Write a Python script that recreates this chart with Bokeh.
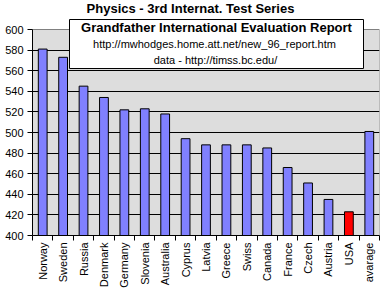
import math
from bokeh.plotting import figure
from bokeh.models import FixedTicker, Label, BoxAnnotation, Range1d
from bokeh.embed import file_html
from bokeh.resources import INLINE

countries = ["Norway", "Sweden", "Russia", "Denmark", "Germany", "Slovenia",
             "Australia", "Cyprus", "Latvia", "Greece", "Swiss", "Canada",
             "France", "Czech", "Austria", "USA", "avarage"]
scores = [581, 573, 545, 534, 522, 523, 518, 494, 488, 488, 488, 485,
          466, 451, 435, 423, 501]
highlight = "USA"
y_ticks = [400, 420, 440, 460, 480, 500, 520, 540, 560, 580, 600]
y_min, y_max = 400, 600

title = "Physics - 3rd Internat. Test Series"
box_lines = ["Grandfather International Evaluation Report",
             "http://mwhodges.home.att.net/new_96_report.htm",
             "data - http://timss.bc.edu/"]

FONT = "Liberation Sans"
n = len(countries)
xs = list(range(n))
colors = ["#FF0000" if c == highlight else "#8080FF" for c in countries]

# frame spans the canvas from the top so that the header texts sit inside it;
# the value axis 400..600 occupies its lower 206 px
FRAME_H, PLOT_H = 235, 206
y_top = y_min + FRAME_H * (y_max - y_min) / PLOT_H

p = figure(frame_width=347, frame_height=FRAME_H, output_backend="svg",
           toolbar_location=None,
           x_range=Range1d(-0.5, n - 0.5), y_range=Range1d(y_min, y_top),
           min_border_left=32, min_border_right=5, min_border_top=0,
           min_border_bottom=10)
p.background_fill_color = "white"
p.border_fill_color = "white"
p.outline_line_color = None

# grey plot area with grey top/right border
p.add_layout(BoxAnnotation(left=-0.5, right=n - 0.5, bottom=y_min, top=y_max,
                           fill_color="#DDDDDD", fill_alpha=1.0,
                           line_color="#808080", line_width=1, line_alpha=1.0,
                           level="image"))

p.vbar(x=xs, top=scores, bottom=y_min, width=0.43, fill_color=colors,
       line_color="black", line_width=1)

p.xgrid.grid_line_color = None
p.ygrid.ticker = FixedTicker(ticks=y_ticks[1:-1])
p.ygrid.grid_line_color = "black"
p.ygrid.grid_line_width = 1

ya = p.yaxis[0]
ya.ticker = FixedTicker(ticks=y_ticks)
ya.bounds = (y_min, y_max)
ya.major_tick_out = 5
ya.major_tick_in = 0
ya.minor_tick_line_color = None
ya.axis_line_color = "black"
ya.major_tick_line_color = "black"
ya.major_label_text_font = FONT
ya.major_label_text_font_size = "11px"
ya.major_label_text_color = "black"
ya.major_label_standoff = 4

xa = p.xaxis[0]
xa.ticker = FixedTicker(ticks=xs, minor_ticks=[i - 0.5 for i in range(n + 1)])
xa.major_label_overrides = {i: c for i, c in enumerate(countries)}
xa.major_tick_line_color = None
xa.major_tick_out = 5
xa.major_tick_in = 0
xa.minor_tick_out = 5
xa.minor_tick_in = 0
xa.minor_tick_line_color = "black"
xa.axis_line_color = "black"
xa.major_label_orientation = math.pi / 2
xa.major_label_text_font = FONT
xa.major_label_text_font_size = "11px"
xa.major_label_text_color = "black"
xa.major_label_standoff = 2

p.add_layout(Label(x=190, y=8, x_units="canvas", y_units="canvas", text=title,
                   text_font=FONT, text_font_size="13px", text_font_style="bold",
                   text_color="black", text_align="center", text_baseline="middle"))

p.add_layout(BoxAnnotation(left=69, right=363, top=19, bottom=68,
                           left_units="canvas", right_units="canvas",
                           top_units="canvas", bottom_units="canvas",
                           fill_color="white", fill_alpha=1.0,
                           line_color="black", line_width=1, line_alpha=1.0))

p.add_layout(Label(x=216, y=27, x_units="canvas", y_units="canvas", text=box_lines[0],
                   text_font=FONT, text_font_size="13px", text_font_style="bold",
                   text_color="black", text_align="center", text_baseline="middle"))
p.add_layout(Label(x=214, y=43.5, x_units="canvas", y_units="canvas", text=box_lines[1],
                   text_font=FONT, text_font_size="11px", text_color="black",
                   text_align="center", text_baseline="middle"))
p.add_layout(Label(x=215, y=59.5, x_units="canvas", y_units="canvas", text=box_lines[2],
                   text_font=FONT, text_font_size="11px", text_color="black",
                   text_align="center", text_baseline="middle"))

open("out.html", "w").write(file_html(p, INLINE))
